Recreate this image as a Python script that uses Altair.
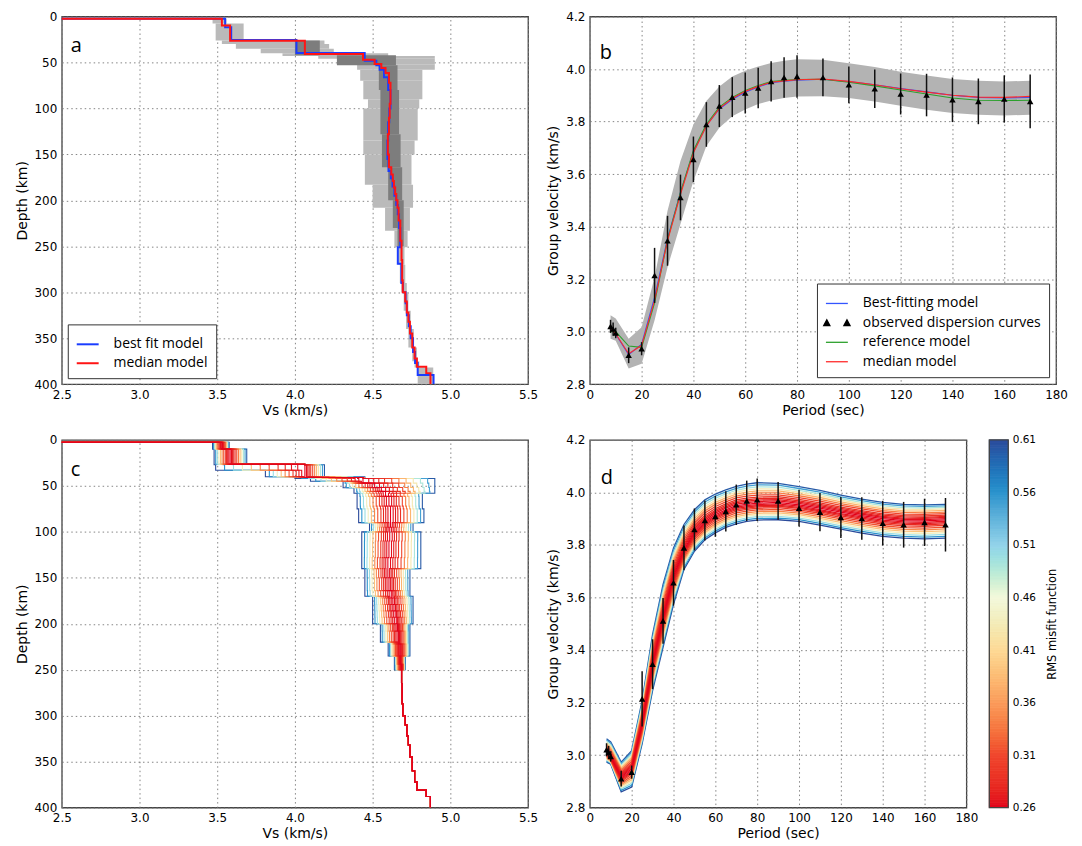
import altair as alt
import pandas as pd
import numpy as np

# ---------------- Panel a / c : shear-velocity profiles ----------------
MAX_DEPTH = 400
MEDIAN_TOPS = [0, 2.5, 9.8, 26.4, 40.8, 47, 51.7, 56, 61.4, 72, 95, 110, 128, 150, 164, 172, 179, 186,
               193, 200, 208, 222, 244, 265, 287, 300, 310, 322, 332, 345, 360, 372, 381, 388]
MEDIAN_VS = [1.5, 3.53, 3.583, 4.064, 4.438, 4.513, 4.556, 4.583, 4.605, 4.615, 4.61, 4.605, 4.598, 4.605,
             4.62, 4.63, 4.637, 4.645, 4.652, 4.66, 4.667, 4.678, 4.686, 4.69, 4.694, 4.71, 4.72, 4.73,
             4.74, 4.755, 4.77, 4.785, 4.845, 4.872]
BEST_TOPS = [0, 2.5, 11.6, 25.5, 39.8, 48, 53, 58, 66, 80, 100, 115, 135, 155, 168, 176, 185, 195, 205,
             215, 230, 251, 269, 290, 300, 312, 325, 337, 350, 365, 377, 390]
BEST_VS = [1.5, 3.551, 3.59, 4.01, 4.449, 4.524, 4.545, 4.573, 4.6, 4.615, 4.607, 4.6, 4.595, 4.602,
           4.617, 4.628, 4.64, 4.652, 4.662, 4.67, 4.678, 4.662, 4.685, 4.695, 4.712, 4.72, 4.733, 4.745,
           4.76, 4.773, 4.79, 4.892]

# ensemble envelopes of panel a (light and dark grey)
LIGHT_TOPS = [2.5, 7.5, 26, 30, 35, 40, 43, 46, 52, 58, 70, 90, 100, 135, 150, 183, 208, 233, 251, 270,
              290, 300, 320, 340, 360, 375, 382]
LIGHT_LEFT = [3.47, 3.49, 3.53, 3.62, 3.78, 3.92, 4.15, 4.3, 4.4, 4.42, 4.44, 4.47, 4.44, 4.44, 4.45, 4.5,
              4.58, 4.64, 4.665, 4.675, 4.685, 4.70, 4.715, 4.73, 4.755, 4.77, 4.79]
LIGHT_RIGHT = [3.56, 3.67, 4.19, 4.22, 4.25, 4.6, 4.9, 4.9, 4.9, 4.82, 4.82, 4.8, 4.79, 4.77, 4.75, 4.76,
               4.74, 4.725, 4.705, 4.71, 4.72, 4.73, 4.745, 4.765, 4.785, 4.8, 4.89]
DARK_TOPS = [26, 42, 53, 80, 128, 164, 200, 230]
DARK_LEFT = [4.0, 4.27, 4.54, 4.55, 4.56, 4.6, 4.63, 4.66]
DARK_RIGHT = [4.16, 4.65, 4.66, 4.67, 4.68, 4.69, 4.70, 4.70]
DARK_END = 250

# ensemble envelope of panel c
C_TOPS = [2.5, 10, 27, 33, 40, 42, 45, 52, 58, 75, 90, 100, 140, 170, 200, 220, 235]
C_LEFT = [3.47, 3.48, 3.49, 3.81, 4.0, 4.1, 4.31, 4.38, 4.4, 4.41, 4.48, 4.43, 4.45, 4.5, 4.55, 4.6, 4.64]
C_RIGHT = [3.577, 3.69, 4.19, 4.19, 4.45, 4.9, 4.9, 4.9, 4.82, 4.83, 4.76, 4.81, 4.74, 4.76, 4.74, 4.74, 4.71]
C_END = 250

# ---------------- Panel b / d : group-velocity dispersion ----------------
PERIODS = [8, 10, 15, 20, 25, 30, 35, 40, 45, 50, 55, 60, 65, 70, 75, 80, 90, 100, 110, 120, 130, 140, 150, 160, 170]
V_MEDIAN = [3.011, 2.992, 2.916, 2.948, 3.119, 3.346, 3.523, 3.681, 3.783, 3.85, 3.888, 3.915, 3.934, 3.95,
            3.955, 3.959, 3.962, 3.953, 3.94, 3.925, 3.912, 3.90, 3.893, 3.892, 3.896]
V_BEST = [3.012, 2.99, 2.912, 2.952, 3.13, 3.355, 3.53, 3.685, 3.785, 3.848, 3.885, 3.912, 3.932, 3.948,
          3.954, 3.958, 3.961, 3.952, 3.94, 3.926, 3.913, 3.90, 3.892, 3.89, 3.892]
V_REF = [3.0, 3.0, 2.945, 2.94, 3.11, 3.35, 3.53, 3.69, 3.79, 3.855, 3.892, 3.918, 3.937, 3.952,
         3.957, 3.96, 3.961, 3.95, 3.936, 3.92, 3.905, 3.89, 3.881, 3.88, 3.881]
V_UPPER = [3.062, 3.05, 2.973, 3.017, 3.207, 3.46, 3.65, 3.789, 3.878, 3.934, 3.972, 3.994, 4.01, 4.023,
           4.032, 4.037, 4.035, 4.022, 4.008, 3.99, 3.975, 3.962, 3.955, 3.953, 3.955]
V_LOWER = [2.973, 2.965, 2.86, 2.878, 3.043, 3.245, 3.41, 3.574, 3.707, 3.776, 3.82, 3.846, 3.867, 3.88,
           3.89, 3.895, 3.896, 3.89, 3.876, 3.86, 3.845, 3.833, 3.826, 3.823, 3.826]

OBS_PERIOD = [8, 9, 10, 15, 20, 25, 30, 35, 40, 45, 50, 55, 60, 65, 70, 75, 80, 90, 100, 110, 120, 130, 140, 150, 160, 170]
OBS_VEL = [3.02, 3.01, 2.995, 2.91, 2.935, 3.214, 3.346, 3.511, 3.656, 3.789, 3.859, 3.893, 3.909, 3.928,
           3.953, 3.968, 3.972, 3.968, 3.94, 3.925, 3.905, 3.901, 3.883, 3.877, 3.886, 3.877]
OBS_ERR = [0.025, 0.025, 0.02, 0.03, 0.025, 0.105, 0.095, 0.087, 0.087, 0.085, 0.08, 0.076, 0.078, 0.077,
           0.077, 0.077, 0.081, 0.072, 0.07, 0.073, 0.078, 0.081, 0.085, 0.087, 0.09, 0.102]

# ensemble members (position inside the envelope, RMS misfit), outermost first
ENS_FRAC = [-1.0, 1.0, -0.9, 0.9, -0.8, 0.8, -0.7, 0.7, -0.6, 0.6, -0.5, 0.5, -0.4, 0.4, -0.3, 0.3,
            -0.22, 0.22, -0.15, 0.15, -0.08, 0.08, 0.0]
ENS_MISFIT = [0.61, 0.6, 0.56, 0.55, 0.5, 0.49, 0.44, 0.43, 0.39, 0.38, 0.345, 0.34, 0.315, 0.31, 0.295,
              0.29, 0.28, 0.28, 0.27, 0.27, 0.265, 0.265, 0.26]

CBAR_TICKS = [0.26, 0.31, 0.36, 0.41, 0.46, 0.51, 0.56, 0.61]
CBAR_COLORS = ["#e2001b", "#f0452c", "#fb9b5b", "#fed995", "#f4f9dc", "#92d3ea", "#2a93cd", "#2b4b9b"]

FONT = "DejaVu Sans"
LFONT = "Open Sans"


def step_eval(tops, vals, d):
    v = vals[0]
    for t, val in zip(tops, vals):
        if t <= d:
            v = val
        else:
            break
    return v


def step_path(tops, vals, end, name):
    rows = []
    k = 0
    for i, (t, v) in enumerate(zip(tops, vals)):
        b = tops[i + 1] if i + 1 < len(tops) else end
        rows.append({"series": name, "depth": t, "vs": v, "k": k})
        rows.append({"series": name, "depth": b, "vs": v, "k": k + 1})
        k += 2
    return rows


def step_rects(tops, lo, hi, end):
    bottoms = list(tops[1:]) + [end]
    return pd.DataFrame({"top": tops, "bottom": bottoms, "lo": lo, "hi": hi})


W1, H = 468, 369
W2 = 378
CB_X, CB_W = W2 + 23, 19

xs_vs = alt.Scale(domain=[2.5, 5.5], nice=False, zero=False)
ys_depth = alt.Scale(domain=[0, 400], reverse=True, nice=False, zero=False)
xs_per = alt.Scale(domain=[0, 180], nice=False, zero=False)
ys_vel = alt.Scale(domain=[2.8, 4.2], nice=False, zero=False)
col_scale = alt.Scale(domain=CBAR_TICKS, range=CBAR_COLORS, clamp=True)

ax_vs = alt.Axis(values=[2.5, 3.0, 3.5, 4.0, 4.5, 5.0, 5.5], format=".1f", title="Vs (km/s)", titlePadding=3)
ax_depth = alt.Axis(values=list(range(0, 401, 50)), title="Depth (km)")
ax_per = alt.Axis(values=list(range(0, 181, 20)), title="Period (sec)", titlePadding=3)
ax_vel = alt.Axis(values=[2.8, 3.0, 3.2, 3.4, 3.6, 3.8, 4.0, 4.2], format=".1f", title="Group velocity (km/s)")


def letter(ch, x, y):
    return alt.Chart(pd.DataFrame({"t": [ch]})).mark_text(
        align="left", baseline="alphabetic", font=LFONT, fontSize=20, color="black"
    ).encode(x=alt.value(x), y=alt.value(y), text="t:N")


# ---------------- panel a ----------------
light = step_rects(LIGHT_TOPS, LIGHT_LEFT, LIGHT_RIGHT, MAX_DEPTH)
dark = step_rects(DARK_TOPS, DARK_LEFT, DARK_RIGHT, DARK_END)
a_light = alt.Chart(light).mark_rect(color="#bababa", clip=True).encode(
    y=alt.Y("top:Q", scale=ys_depth, axis=ax_depth), y2="bottom:Q",
    x=alt.X("lo:Q", scale=xs_vs, axis=ax_vs), x2="hi:Q")
a_dark = alt.Chart(dark).mark_rect(color="#7d7d7d", clip=True).encode(
    y=alt.Y("top:Q", scale=ys_depth), y2="bottom:Q",
    x=alt.X("lo:Q", scale=xs_vs), x2="hi:Q")
prof = pd.DataFrame(step_path(BEST_TOPS, BEST_VS, MAX_DEPTH, "best fit model")
                    + step_path(MEDIAN_TOPS, MEDIAN_VS, MAX_DEPTH, "median model"))
a_lines = alt.Chart(prof).mark_line(strokeWidth=2, clip=True).encode(
    x=alt.X("vs:Q", scale=xs_vs), y=alt.Y("depth:Q", scale=ys_depth), order="k:Q",
    color=alt.Color("series:N",
                    scale=alt.Scale(domain=["best fit model", "median model"], range=["#1a3cff", "#ff1414"]),
                    legend=alt.Legend(title=None, orient="bottom-left", offset=6, fillColor="white",
                                      strokeColor="#333", padding=8, symbolType="stroke", symbolSize=484,
                                      symbolStrokeWidth=2, labelFont=LFONT, labelFontSize=14,
                                      labelColor="black", labelOffset=14, rowPadding=0)))
panel_a = alt.layer(a_light, a_dark, a_lines, letter("a", 9, 36)).properties(width=W1, height=H)

# ---------------- panel b ----------------
disp = pd.DataFrame({"period": PERIODS, "up": V_UPPER, "low": V_LOWER})
b_band = alt.Chart(disp).mark_area(color="#b3b3b3").encode(
    x=alt.X("period:Q", scale=xs_per, axis=ax_per),
    y=alt.Y("low:Q", scale=ys_vel, axis=ax_vel), y2="up:Q")
SERIES_B = ["Best-fitting model", "observed dispersion curves", "reference model", "median model"]
COLORS_B = ["#3355ff", "#000000", "#2ca02c", "#ff2a2a"]
TRI2 = "M-1.2,0.25L-0.92,-0.27L-0.64,0.25Z M0.64,0.25L0.92,-0.27L1.2,0.25Z"
SHAPES_B = ["stroke", TRI2, "stroke", "stroke"]
curves = pd.DataFrame(
    [{"series": "Best-fitting model", "period": p, "v": v} for p, v in zip(PERIODS, V_BEST)]
    + [{"series": "reference model", "period": p, "v": v} for p, v in zip(PERIODS, V_REF)]
    + [{"series": "median model", "period": p, "v": v} for p, v in zip(PERIODS, V_MEDIAN)])
b_lines = alt.Chart(curves).mark_line(strokeWidth=1.1).encode(
    x=alt.X("period:Q", scale=xs_per), y=alt.Y("v:Q", scale=ys_vel),
    color=alt.Color("series:N", scale=alt.Scale(domain=SERIES_B, range=COLORS_B), legend=None))
obs = pd.DataFrame({"period": OBS_PERIOD, "v": OBS_VEL,
                    "lo": [v - e for v, e in zip(OBS_VEL, OBS_ERR)],
                    "hi": [v + e for v, e in zip(OBS_VEL, OBS_ERR)],
                    "series": ["observed dispersion curves"] * len(OBS_PERIOD)})
leg_b = alt.Legend(title=None, orient="bottom-right", offset=7, fillColor="white",
                   strokeColor="#333", padding=8, symbolSize=484,
                   symbolStrokeWidth=1.3, labelFont=LFONT, labelFontSize=14, labelColor="black",
                   labelOffset=14, rowPadding=0.5, labelLimit=400, symbolOpacity=1)
b_key = alt.Chart(obs).transform_filter("false").mark_point(filled=False, fill="black", strokeWidth=1.3).encode(
    x=alt.X("period:Q", scale=xs_per), y=alt.Y("v:Q", scale=ys_vel),
    color=alt.Color("series:N", scale=alt.Scale(domain=SERIES_B, range=COLORS_B), legend=leg_b),
    shape=alt.Shape("series:N", scale=alt.Scale(domain=SERIES_B, range=SHAPES_B), legend=leg_b))


def obs_layers():
    bars = alt.Chart(obs).mark_rule(color="#111111", strokeWidth=1.5).encode(
        x=alt.X("period:Q", scale=xs_per), y=alt.Y("lo:Q", scale=ys_vel), y2="hi:Q")
    tri = alt.Chart(obs).mark_point(shape="triangle-up", filled=True, color="black", size=42, opacity=1).encode(
        x=alt.X("period:Q", scale=xs_per), y=alt.Y("v:Q", scale=ys_vel))
    return bars, tri


bb, bt = obs_layers()
panel_b = alt.layer(b_band, b_lines, bb, bt, b_key, letter("b", 10, 43)).resolve_scale(
    color="independent", shape="independent").properties(width=W1, height=H)

# ---------------- panel c ----------------
grid = sorted(set(MEDIAN_TOPS) | set(C_TOPS) | {C_END})
crow = []
for li, (f, m) in enumerate(zip(ENS_FRAC, ENS_MISFIT)):
    k = 0
    for i, t in enumerate(grid):
        b = grid[i + 1] if i + 1 < len(grid) else MAX_DEPTH
        med = step_eval(MEDIAN_TOPS, MEDIAN_VS, t)
        if t < C_TOPS[0] or t >= C_END:
            lo = hi = med
        else:
            lo = min(step_eval(C_TOPS, C_LEFT, t), med)
            hi = max(step_eval(C_TOPS, C_RIGHT, t), med)
        v = med + f * (hi - med) if f >= 0 else med + f * (med - lo)
        crow.append({"line": f"L{li:02d}", "misfit": m, "depth": t, "vs": v, "k": k})
        crow.append({"line": f"L{li:02d}", "misfit": m, "depth": b, "vs": v, "k": k + 1})
        k += 2
c_lines = alt.Chart(pd.DataFrame(crow)).mark_line(strokeWidth=1.1, clip=True).encode(
    x=alt.X("vs:Q", scale=xs_vs, axis=ax_vs), y=alt.Y("depth:Q", scale=ys_depth, axis=ax_depth),
    detail="line:N", order="k:Q",
    color=alt.Color("misfit:Q", scale=col_scale, legend=None))
panel_c = alt.layer(c_lines, letter("c", 9, 36)).properties(width=W1, height=H)

# ---------------- panel d (+ colour bar) ----------------
drow = []
for li, (f, m) in enumerate(zip(ENS_FRAC, ENS_MISFIT)):
    for p, c, u, l in zip(PERIODS, V_MEDIAN, V_UPPER, V_LOWER):
        v = c + f * (u - c) if f >= 0 else c + f * (c - l)
        drow.append({"line": f"L{li:02d}", "misfit": m, "period": p, "v": v})
d_lines = alt.Chart(pd.DataFrame(drow)).mark_line(strokeWidth=1.3).encode(
    x=alt.X("period:Q", scale=xs_per, axis=ax_per), y=alt.Y("v:Q", scale=ys_vel, axis=ax_vel),
    detail="line:N", color=alt.Color("misfit:Q", scale=col_scale, legend=None))
db, dt = obs_layers()
d_main = alt.layer(d_lines, db, dt, letter("d", 11, 44))

stops = np.linspace(CBAR_TICKS[0], CBAR_TICKS[-1], 141)
cb = pd.DataFrame({"lo": stops[:-1], "hi": stops[1:], "mid": (stops[:-1] + stops[1:]) / 2})
cb_scale = alt.Scale(domain=[0.26, 0.61], nice=False, zero=False)
cb_axis = alt.Axis(orient="right", offset=CB_X + CB_W - W2, values=CBAR_TICKS, format=".2f",
                   grid=False, ticks=False, labelPadding=4, labelFontSize=10.5,
                   title="RMS misfit function", titleAngle=270, titlePadding=22, titleFontSize=11.5)
cbar = alt.Chart(cb).mark_rect(strokeWidth=0.8).encode(
    x=alt.value(CB_X), x2=alt.value(CB_X + CB_W),
    y=alt.Y("lo:Q", scale=cb_scale, axis=cb_axis), y2="hi:Q",
    color=alt.Color("mid:Q", scale=col_scale, legend=None),
    stroke=alt.Color("mid:Q", scale=col_scale, legend=None))
cb_frame = alt.Chart(pd.DataFrame({"lo": [CBAR_TICKS[0]], "hi": [CBAR_TICKS[-1]]})).mark_rect(
    fill=None, fillOpacity=0, stroke="#444444", strokeWidth=1.3).encode(
    x=alt.value(CB_X), x2=alt.value(CB_X + CB_W),
    y=alt.Y("lo:Q", scale=cb_scale, axis=cb_axis), y2="hi:Q")
cbar_layer = alt.layer(cbar, cb_frame)
panel_d = alt.layer(d_main, cbar_layer).resolve_scale(y="independent").properties(width=W2, height=H)

chart = alt.concat(panel_a, panel_b, panel_c, panel_d, columns=2,
                   spacing={"row": 56, "column": 62}, bounds="flush").properties(
    padding={"left": 6, "top": 0, "right": 5, "bottom": 0}
).configure_view(stroke="#444444", strokeWidth=1.3).configure_axis(
    grid=True, gridColor="#777777", gridDash=[1.5, 3], gridOpacity=0.9, gridWidth=1,
    ticks=False, domain=False, labelPadding=5, labelFlush=False, labelOverlap=False,
    labelFont=FONT, labelFontSize=12, labelColor="black",
    titleFont=FONT, titleFontSize=14, titleFontWeight="normal", titleColor="black", titlePadding=5
)

chart.save("out.html", embed_options={"renderer": "svg", "actions": False})
